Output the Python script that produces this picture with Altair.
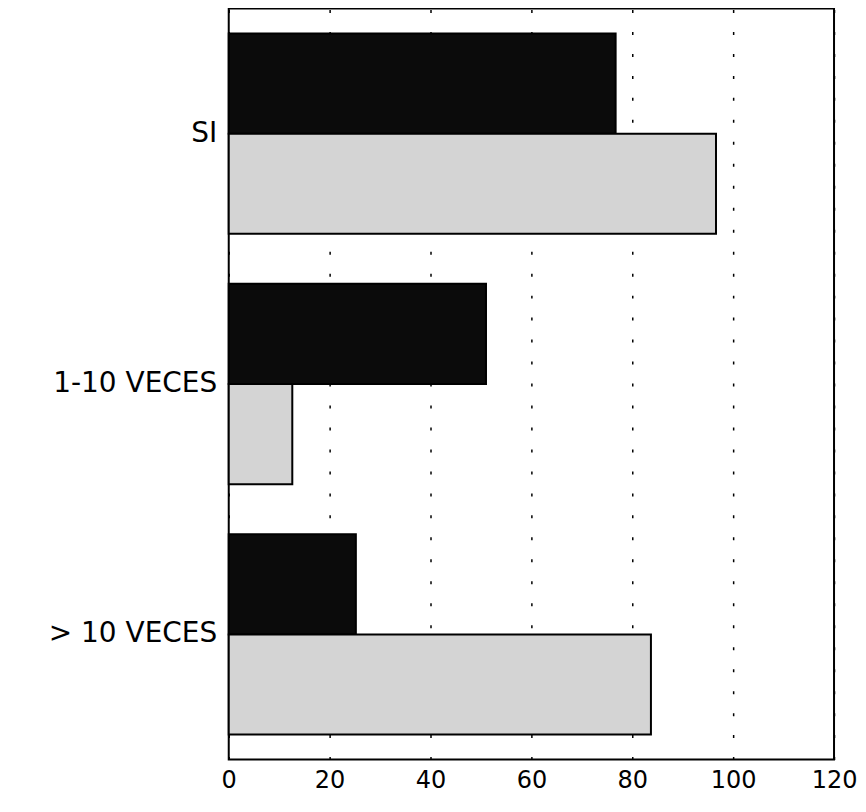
import altair as alt
import pandas as pd

categories = ["SI", "1-10 VECES", "> 10 VECES"]
series_names = ["Serie 1", "Serie 2"]
serie1 = [76.7, 51.0, 25.2]
serie2 = [96.6, 12.6, 83.7]
x_ticks = [0, 20, 40, 60, 80, 100, 120]

rows = []
for c, a, b in zip(categories, serie1, serie2):
    rows.append({"cat": c, "serie": series_names[0], "valor": a})
    rows.append({"cat": c, "serie": series_names[1], "valor": b})
df = pd.DataFrame(rows)

chart = (
    alt.Chart(df)
    .mark_bar(stroke="black", strokeWidth=2)
    .encode(
        x=alt.X(
            "valor:Q",
            scale=alt.Scale(domain=[0, 120], nice=False, zero=True),
            axis=alt.Axis(
                title=None,
                values=x_ticks,
                format="d",
                grid=True,
                gridColor="black",
                gridDash=[3, 19],
                gridWidth=1.5,
                gridOpacity=1,
                domain=False,
                ticks=False,
                labelFont="DejaVu Sans",
                labelFontSize=24,
                labelColor="black",
                labelPadding=9,
                labelFlush=False,
                labelOverlap=False,
            ),
        ),
        y=alt.Y(
            "cat:N",
            sort=categories,
            scale=alt.Scale(paddingInner=0.2, paddingOuter=0.1),
            axis=alt.Axis(
                title=None,
                domain=False,
                ticks=False,
                grid=False,
                labelFont="DejaVu Sans",
                labelFontSize=28,
                labelColor="black",
                labelPadding=12,
                labelLimit=400,
            ),
        ),
        yOffset=alt.YOffset(
            "serie:N",
            sort=series_names,
            scale=alt.Scale(paddingInner=0, paddingOuter=0),
        ),
        color=alt.Color(
            "serie:N",
            scale=alt.Scale(domain=series_names, range=["#0b0b0b", "#d4d4d4"]),
            legend=None,
        ),
    )
    .properties(
        width=606,
        height=752,
        autosize=alt.AutoSizeParams(type="none"),
        padding={"left": 221, "top": 0, "right": 24, "bottom": 38},
        background="white",
    )
    .configure_view(stroke="black", strokeWidth=2)
)

chart.save("out.html", embed_options={"renderer": "svg", "actions": False})
